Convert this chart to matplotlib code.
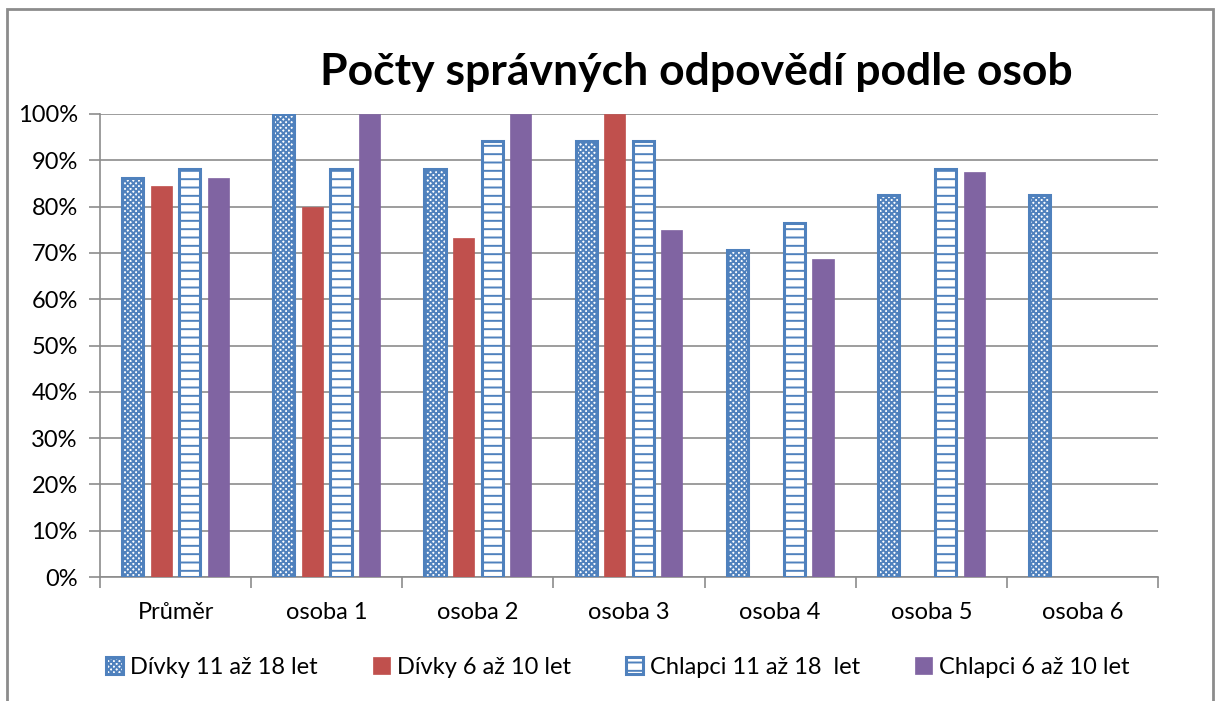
import numpy as np
import matplotlib
matplotlib.use('Agg')
import matplotlib.pyplot as plt
from matplotlib.patches import Rectangle
from matplotlib.ticker import PercentFormatter

plt.rcParams['font.family'] = ['Lato', 'DejaVu Sans']
plt.rcParams['hatch.linewidth'] = 1.4

categories = ['Průměr', 'osoba 1', 'osoba 2', 'osoba 3', 'osoba 4', 'osoba 5', 'osoba 6']
divky_11_18 = [86.2, 100, 88.2, 94.1, 70.6, 82.4, 82.4]
divky_6_10 = [84.4, 80, 73.3, 100, np.nan, np.nan, np.nan]
chlapci_11_18 = [88.2, 88.2, 94.1, 94.1, 76.5, 88.2, np.nan]
chlapci_6_10 = [86.1, 100, 100, 75, 68.75, 87.5, np.nan]
series_names = ['Dívky 11 až 18 let', 'Dívky 6 až 10 let', 'Chlapci 11 až 18  let', 'Chlapci 6 až 10 let']

blue = '#4f81bd'
red = '#c0504d'
purple = '#8064a2'

fig = plt.figure(figsize=(12.22, 7.01), dpi=100)
ax = fig.add_axes([100 / 1222, 1 - 577 / 701, 1058 / 1222, 463 / 701])

# outer chart frame
fig.patches.append(Rectangle((7 / 1222, -0.05), 1206 / 1222, 1.05 - 9 / 701,
                             transform=fig.transFigure, fill=False,
                             edgecolor='#8c8c8c', linewidth=2))

x = np.arange(len(categories))
step = 0.189
width = 0.14

styles = [
    dict(facecolor='white', edgecolor=blue, hatch='xxxxxx', linewidth=2.2),
    dict(facecolor=red, edgecolor=red, linewidth=0.5),
    dict(facecolor='white', edgecolor=blue, hatch='--', linewidth=2.2),
    dict(facecolor=purple, edgecolor=purple, linewidth=0.5),
]
data = [divky_11_18, divky_6_10, chlapci_11_18, chlapci_6_10]

for i, (vals, name, st) in enumerate(zip(data, series_names, styles)):
    ax.bar(x + (i - 1.5) * step, vals, width, label=name, zorder=3, **st)

ax.set_xlim(-0.5, len(categories) - 0.5)
ax.set_ylim(0, 100)
ax.set_yticks(np.arange(0, 101, 10))
ax.yaxis.set_major_formatter(PercentFormatter(decimals=0))
ax.grid(axis='y', color='#8c8c8c', linewidth=1.2, zorder=0)

ax.set_xticks(x)
ax.set_xticklabels(categories)
ax.set_xticks(np.arange(-0.5, len(categories), 1), minor=True)
ax.tick_params(axis='x', which='major', length=0, pad=18, labelsize=17)
ax.tick_params(axis='x', which='minor', length=8, color='#8c8c8c', width=1.2)
ax.tick_params(axis='y', length=8, color='#8c8c8c', width=1.2, labelsize=17, pad=8)

for s in ['top', 'right']:
    ax.spines[s].set_visible(False)
for s in ['left', 'bottom']:
    ax.spines[s].set_color('#8c8c8c')
    ax.spines[s].set_linewidth(1.2)

fig.text(696 / 1222, 1 - 72 / 701, 'Počty správných odpovědí podle osob',
         ha='center', va='center', fontsize=32, fontweight='bold')

fig.legend(loc='center', bbox_to_anchor=(618 / 1222, 1 - 667 / 701), ncol=4,
           frameon=False, fontsize=17, handlelength=0.7, handleheight=0.7,
           handletextpad=0.3, columnspacing=2.35)

fig.savefig('out.png', dpi=100)
